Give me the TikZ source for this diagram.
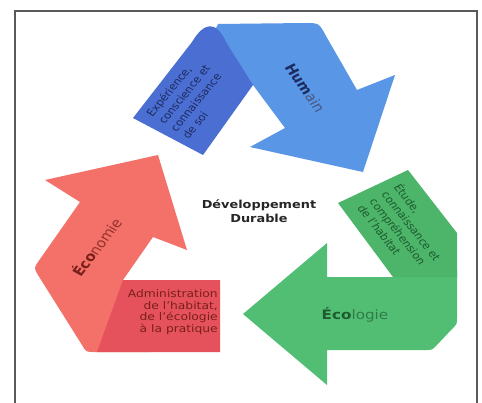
\documentclass[tikz,border=0pt]{standalone}
\usepackage{fontspec}
\setmainfont{DejaVu Sans}
\usepackage{tikz}
\usetikzlibrary{positioning}
\definecolor{bluelight}{HTML}{5A96E6}
\definecolor{bluedark}{HTML}{4B6ED2}
\definecolor{greenlight}{HTML}{52BE74}
\definecolor{greendark}{HTML}{4CB56A}
\definecolor{redlight}{HTML}{F4716A}
\definecolor{reddark}{HTML}{E5525C}
\definecolor{bluetext}{HTML}{1C2B5E}
\definecolor{greentext}{HTML}{1E5A2E}
\definecolor{greensoft}{HTML}{2F7A47}
\definecolor{redtext}{HTML}{7A1F1A}
\definecolor{redsoft}{HTML}{93332C}

\begin{document}
\begin{tikzpicture}[x=1pt, y=-1pt, wide/.style={xscale=1.17, inner sep=0pt}]
   \useasboundingbox (0,0) rectangle (482,402);
   \fill[white] (0,0) rectangle (482,402);
   \draw[line width=1.2pt, black!65] (15,404) -- (15,11) -- (477,11) -- (477,404);
   % Humain
   \fill[bluelight] (232,82) -- (213,34) -- (218,24) -- (305,23) .. controls (319,23) .. (326,36)
      -- (357,90) -- (395,75) -- (363,172) -- (250,147) -- (285,128) -- (253,85) -- cycle;
   \fill[bluedark] (133,118) -- (192,42) .. controls (204,22) and (216,20) .. (226,42) -- (253,85) -- (203,155) -- cycle;
   % Ecologie
   \fill[greenlight] (327,277) -- (393,277) -- (400,270) -- (457,270) -- (457,318) .. controls (457,324) .. (452,329)
      -- (436,346) .. controls (432,350) .. (425,350) -- (327,350) -- (327,385) -- (243,314) -- (327,243) -- cycle;
   \fill[greendark] (338,203) -- (408,170) -- (457,233) -- (457,277) -- (393,277) -- cycle;
   % Economie
   \fill[redlight] (158,155) -- (187,250) -- (153,237) -- (123,280) -- (150,352) -- (94,352) .. controls (86,352) .. (82,345)
      -- (38,275) .. controls (34,268) .. (38,262) -- (80,202) -- (45,180) -- cycle;
   \fill[reddark] (123,280) -- (220,280) -- (220,352) -- (97,352) -- cycle;
   \begin{scope}[every node/.style={wide}]
    \node (centre) [align=center, font=\bfseries\fontsize{11}{14}\selectfont, text=black!85] at (259,211) {Développement\\Durable};
    \node (humain) [rotate=-59, font=\fontsize{13}{15}\selectfont, text=bluetext!80] at (305,88) {\textbf{\color{bluetext}Hum}ain};
    \node (soi) [rotate=55, align=left, font=\fontsize{10}{12.5}\selectfont, text=bluetext] at (190,98) {Expérience,\\conscience et\\connaissance\\de soi};
    \node (habitat) [rotate=-56, align=left, font=\fontsize{10}{12.5}\selectfont, text=greentext] at (406,229) {Étude,\\connaissance et\\compréhension\\de l'habitat};
    \node (ecologie) [font=\fontsize{13}{15}\selectfont, text=greensoft] at (355,315) {\textbf{\color{greentext}Éco}logie};
    \node (economie) [rotate=57, font=\fontsize{13}{15}\selectfont, text=redsoft] at (96,247) {\textbf{\color{redtext}Éco}nomie};
    \node (admin) [anchor=east, align=right, font=\fontsize{10.5}{11.7}\selectfont, text=redtext] at (218,312) {Administration\\de l'habitat,\\de l'écologie\\à la pratique};
   \end{scope}
\end{tikzpicture}
\end{document}
